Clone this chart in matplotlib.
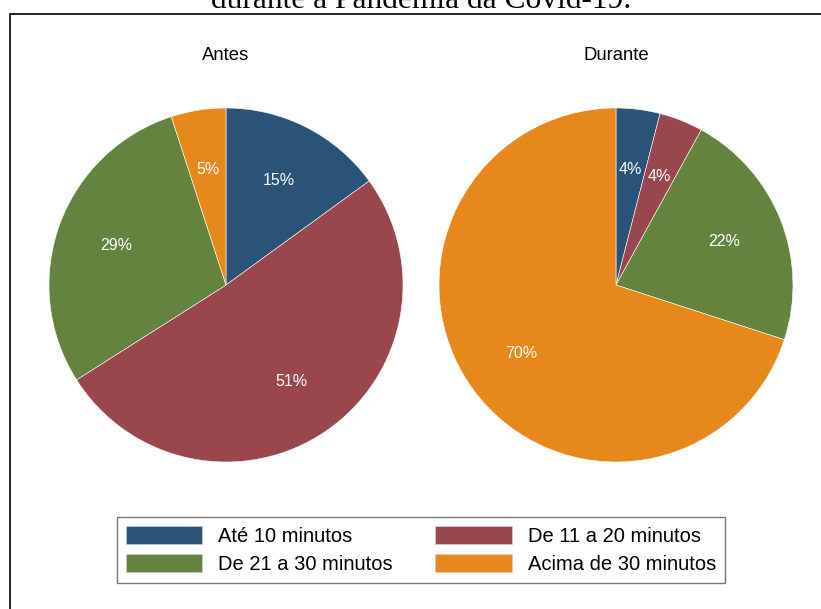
import matplotlib.pyplot as plt
from matplotlib.patches import Patch, Rectangle

# Dados
categorias = ["Até 10 minutos", "De 11 a 20 minutos", "De 21 a 30 minutos", "Acima de 30 minutos"]
antes = [15, 51, 29, 5]
durante = [4, 4, 22, 70]
titulos = ["Antes", "Durante"]
cores = ["#2b5277", "#9a464d", "#63833f", "#e6881c"]

W, H = 821, 609
fig = plt.figure(figsize=(W / 100, H / 100), dpi=100)
fig.patch.set_facecolor("white")

# cabeçalho cortado do documento original
fig.text(421 / W, 1 - 8 / H, "durante a Pandemia da Covid-19.", ha="center", va="baseline",
         fontsize=22.7, family="Liberation Serif", color="black")

# moldura
fig.add_artist(Rectangle((10 / W, -0.05), 1.0, 1 - 14 / H + 0.05, transform=fig.transFigure,
                         fill=False, edgecolor="black", linewidth=1.2, clip_on=False))

r = 177
centros = [(226, 285), (616, 285)]
for (cx, cy), valores, titulo in zip(centros, [antes, durante], titulos):
    ax = fig.add_axes([(cx - r) / W, (H - cy - r) / H, 2 * r / W, 2 * r / H])
    ax.pie(valores, colors=cores, startangle=90, counterclock=False, radius=1,
           autopct=lambda p: f"{p:.0f}%", pctdistance=0.66,
           wedgeprops=dict(edgecolor="white", linewidth=0.4),
           textprops=dict(color="white", fontsize=11.5, family="Liberation Sans"))
    ax.set_xlim(-1, 1)
    ax.set_ylim(-1, 1)
    ax.set_aspect("equal")
    fig.text(cx / W, 1 - 55 / H, titulo, ha="center", va="center", fontsize=13.3,
             family="Liberation Sans")

# legenda em ordem por linhas (matplotlib preenche por colunas)
ordem = [0, 2, 1, 3]
handles = [Patch(facecolor=cores[i], edgecolor="#cfcfcf", linewidth=0.5) for i in ordem]
rotulos = [categorias[i] for i in ordem]
leg = fig.legend(handles, rotulos, ncol=2, loc="center", bbox_to_anchor=(421 / W, 1 - 550 / H),
                 prop=dict(family="Liberation Sans", size=14.5), frameon=True, fancybox=False,
                 edgecolor="#555555", handlelength=3.8, handleheight=1.0, handletextpad=0.8,
                 columnspacing=2.1, labelspacing=0.4, borderpad=0.45)
leg.get_frame().set_linewidth(1.0)

fig.savefig("out.png", dpi=100)
